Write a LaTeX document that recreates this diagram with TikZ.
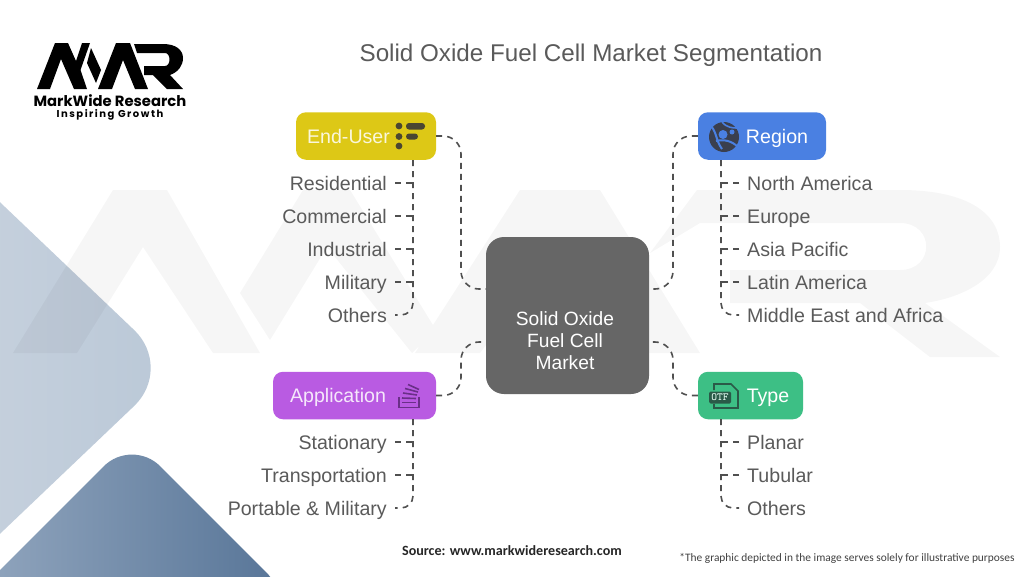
\documentclass[tikz,border=0pt]{standalone}
\usepackage{fontspec}
\setmainfont{Liberation Sans}
\newfontfamily\logofont{Poppins}
\newfontfamily\logospaced[LetterSpace=15]{Poppins}
\newfontfamily\notefont{Carlito}
\definecolor{inkgray}{HTML}{5A5A5A}
\definecolor{linkgray}{HTML}{505050}
\definecolor{boxyellow}{HTML}{DDC816}
\definecolor{boxblue}{HTML}{4A80E2}
\definecolor{boxpurple}{HTML}{B95BE2}
\definecolor{boxgreen}{HTML}{3DBF85}
\definecolor{boxcenter}{HTML}{666666}
\definecolor{iconyellow}{HTML}{4A4632}
\definecolor{iconblue}{HTML}{3A3F4F}
\definecolor{iconpurple}{HTML}{6A2F88}
\definecolor{icongreen}{HTML}{2A5A48}
\definecolor{paleA}{HTML}{C9D3DF}
\definecolor{paleB}{HTML}{BAC8D7}
\definecolor{deepA}{HTML}{93A7BF}
\definecolor{deepB}{HTML}{557396}
\tikzset{
  grouptext/.style={inner sep=0pt, text height=13pt, text depth=0pt, font=\fontsize{19.6}{22}\selectfont},
  groupbox/.style={rounded corners=10pt, minimum height=47.5pt, inner sep=0pt},
  itemleft/.style={anchor=east, inner xsep=8pt, inner ysep=0pt, text height=14pt, text depth=0pt, text=inkgray, font=\fontsize{19.6}{22}\selectfont},
  itemright/.style={anchor=west, inner xsep=8pt, inner ysep=0pt, text height=14pt, text depth=0pt, text=inkgray, font=\fontsize{19.6}{22}\selectfont},
  link/.style={draw=linkgray, line width=1.6pt, dash pattern=on 6pt off 5pt},
  elbow/.style={link, rounded corners=18pt},
}
\begin{document}
\begin{tikzpicture}[x=1pt, y=-1pt, >=stealth]
  \useasboundingbox (0,0) rectangle (1024,576);
  \clip (0,0) rectangle (1024,576);
  \fill[white] (0,0) rectangle (1024,576);
  % Rombos de fondo
  \shade[left color=paleA, right color=paleB, rounded corners=55pt]
    (-80,126) -- (174,368) -- (-80,610) -- cycle;
  \shade[rounded corners=40pt, shading angle=70, left color=deepA, right color=deepB]
    (-30,600) -- (132,438) -- (294,600) -- cycle;
  % Marca de agua
  \fill[black, opacity=0.035] (13,353) -- (113,190) -- (167,190) -- (260,353) -- (213,353) -- (143,247) -- (77,353) -- cycle
    (240,293) -- (303,190) -- (350,190) -- (436,330) -- (412,353) -- (327,247) -- (270,340) -- cycle
    (415,353) -- (520,190) -- (600,190) -- (700,353) -- (640,353) -- (560,247) -- (480,353) -- cycle
    (650,253) -- (697,190) -- (900,190) .. controls (970,190) and (1000,215) .. (1000,247)
    .. controls (1000,280) and (960,298) .. (925,303) -- (1000,357) -- (930,357) -- (860,303) -- (730,303) -- (730,270) -- (900,270)
    .. controls (935,270) and (935,223) .. (900,223) -- (700,223) -- cycle;
  % Logo
  \fill[black] (37,89) -- (55,43) -- (68,43) -- (76,61) -- (82,43) -- (90,43) -- (80.5,70) -- (87,89) -- (74,89) -- (61,59) -- (50,89) -- cycle;
  \fill[black] (91,48) -- (101,70) -- (96,83) -- (87,63) -- cycle;
  \fill[black] (98,89) -- (116,43) -- (130,43) -- (148,89) -- (135,89) -- (123,60) -- (112,89) -- cycle;
  \fill[black] (134,44) -- (163,44) .. controls (176,44) and (183,50) .. (183,58) .. controls (183,66) and (178,72) .. (170,75)
    -- (183,89) -- (167,89) -- (153,75) -- (144,75) -- (144,66) -- (165,66) .. controls (171,66) and (171,53) .. (165,53) -- (137,53) -- cycle;
  \node[inner sep=0pt, font=\logofont\bfseries\fontsize{14.8}{16}\selectfont] (brand) at (110,101) {MarkWide Research};
  \node[inner sep=0pt, font=\logospaced\bfseries\fontsize{10}{11}\selectfont] (slogan) at (110,115) {Inspiring Growth};
  % Titulo
  \node[inner sep=0pt, text=inkgray, font=\fontsize{24.2}{28}\selectfont] (title) at (591,55) {Solid Oxide Fuel Cell Market Segmentation};
  % Nodo central
  \node[fill=boxcenter, rounded corners=18pt, minimum width=163pt, minimum height=157pt, inner sep=0pt] (center) at (567.5,315.5) {};
  \node[inner sep=0pt, align=center, text=white, font=\fontsize{19.2}{22}\selectfont] (centerlabel) at (565,340.5) {Solid Oxide\\Fuel Cell\\Market};
  \coordinate (centerNW) at (486,289);
  \coordinate (centerSW) at (486,342);
  \coordinate (centerNE) at (649,289);
  \coordinate (centerSE) at (649,342);
  % Grupos
  \node[groupbox, fill=boxyellow, minimum width=140pt] (enduser) at (366,136) {};
  \node[groupbox, fill=boxblue, minimum width=128pt] (region) at (762,136) {};
  \node[groupbox, fill=boxpurple, minimum width=163pt] (application) at (354.5,395.5) {};
  \node[groupbox, fill=boxgreen, minimum width=105pt] (type) at (750.5,395.5) {};
  \node[grouptext, text=white!85!boxyellow] (enduserlabel) at (348.5,137) {End-User};
  \node[grouptext, text=white] (regionlabel) at (777,137) {Region};
  \node[grouptext, text=white!85!boxpurple] (applicationlabel) at (338,396) {Application};
  \node[grouptext, text=white] (typelabel) at (768,396) {Type};
  % Iconos
  \fill[iconyellow] (399,126) circle (3.4) (399,136.5) circle (3.4) (399,146) circle (3.4);
  \fill[iconyellow, rounded corners=3pt] (406,123) rectangle (425,129.5);
  \fill[iconyellow, rounded corners=3pt] (406,133.5) rectangle (418,139.5);
  \fill[iconblue] (724,137) circle (15);
  \fill[boxblue] (723,134.5) circle (4.5) (732,132) circle (2.5);
  \draw[boxblue, line width=2pt] (711,126) .. controls (717,133) and (716,141) .. (722,149);
  \draw[boxblue, line width=2pt] (716,141) .. controls (724,139) and (732,141) .. (738,147);
  \draw[boxblue, line width=1.6pt] (722,122) .. controls (727,128) and (733,128) .. (738,128);
  \draw[iconpurple, line width=1.8pt] (399,397) -- (399,407.5) -- (419,407.5) -- (419,397);
  \draw[iconpurple, line width=1.6pt] (402,402.5) -- (416,402.5);
  \draw[iconpurple, line width=1.6pt] (402,398) -- (416,398.5);
  \draw[iconpurple, line width=1.6pt] (403,393) -- (417,395);
  \draw[iconpurple, line width=1.6pt] (405,388.5) -- (418,392);
  \draw[iconpurple, line width=1.6pt] (408,384.5) -- (419,389.5);
  \draw[icongreen, line width=1.6pt] (714,390) -- (714,384) -- (731,384) -- (738,391) -- (738,408) -- (714,408) -- (714,404);
  \fill[icongreen, rounded corners=1.5pt] (709,391.5) rectangle (731,403.5);
  \node[inner sep=0pt, text=white!80!boxgreen, font=\ttfamily\bfseries\fontsize{11}{11}\selectfont] (otf) at (720,397.5) {OTF};
  % Elementos de cada grupo
  \foreach \name/\ypos/\label in {residential/183/Residential, commercial/216/Commercial, industrial/249/Industrial, militaryE/282/Military, othersE/315/Others}
    \node[itemleft] (\name) at (395,\ypos) {\label};
  \foreach \name/\ypos/\label in {northam/183/North America, europe/216/Europe, asia/249/Asia Pacific, latin/282/Latin America, mea/315/Middle East and Africa}
    \node[itemright] (\name) at (739,\ypos) {\label};
  \foreach \name/\ypos/\label in {stationary/442/Stationary, transport/475/Transportation, portable/508/Portable \& Military}
    \node[itemleft] (\name) at (395,\ypos) {\label};
  \foreach \name/\ypos/\label in {planar/442/Planar, tubular/475/Tubular, othersT/508/Others}
    \node[itemright] (\name) at (739,\ypos) {\label};
  % Troncos verticales
  \coordinate (trunkE) at (413,160);
  \coordinate (trunkR) at (721,160);
  \coordinate (trunkA) at (413,419);
  \coordinate (trunkT) at (721,419);
  \draw[elbow, rounded corners=12pt] (trunkE) |- (othersE.east);
  \draw[elbow, rounded corners=12pt] (trunkR) |- (mea.west);
  \draw[elbow, rounded corners=12pt] (trunkA) |- (portable.east);
  \draw[elbow, rounded corners=12pt] (trunkT) |- (othersT.west);
  \foreach \name in {residential, commercial, industrial, militaryE}
    \draw[link] (\name.east) -- (\name.east -| trunkE);
  \foreach \name in {northam, europe, asia, latin}
    \draw[link] (\name.west) -- (\name.west -| trunkR);
  \foreach \name in {stationary, transport}
    \draw[link] (\name.east) -- (\name.east -| trunkA);
  \foreach \name in {planar, tubular}
    \draw[link] (\name.west) -- (\name.west -| trunkT);
  % Conectores al nodo central
  \coordinate (busL) at (461,212);
  \coordinate (busR) at (673,212);
  \draw[elbow] (enduser.east) -| (busL) |- (centerNW);
  \draw[elbow] (region.west) -| (busR) |- (centerNE);
  \draw[elbow] (application.east) -| (busL |- centerSW) -- (centerSW);
  \draw[elbow] (type.west) -| (busR |- centerSE) -- (centerSE);
  % Notas
  \node[inner sep=0pt, text=black!85, font=\notefont\bfseries\fontsize{14.1}{16}\selectfont] (source) at (512,551) {Source: www.markwideresearch.com};
  \node[inner sep=0pt, text=black!75, font=\notefont\fontsize{11.4}{14}\selectfont] (disclaimer) at (847,558) {*The graphic depicted in the image serves solely for illustrative purposes};
\end{tikzpicture}
\end{document}
